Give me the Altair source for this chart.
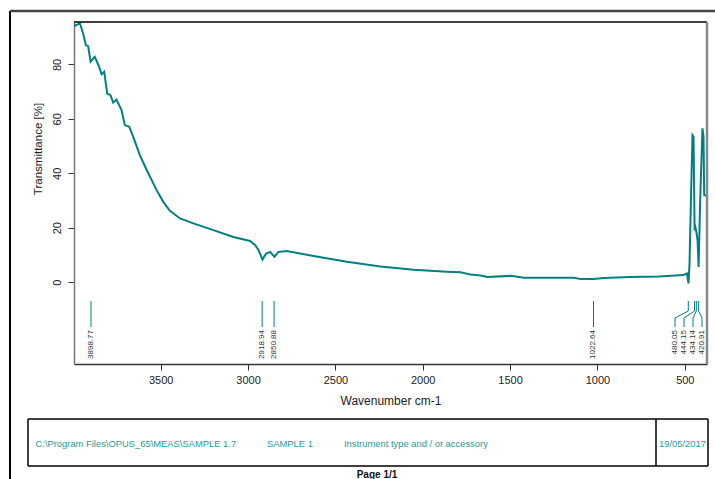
import altair as alt
import pandas as pd

# ---------------- data ----------------
wavenumber = [3996, 3972, 3963, 3944, 3928, 3915, 3901, 3877, 3852, 3838, 3823, 3806,
              3787, 3772, 3753, 3724, 3705, 3680, 3657, 3619, 3580, 3523, 3485, 3447,
              3389, 3313, 3198, 3084, 2988, 2959, 2940, 2917, 2896, 2873, 2849, 2826,
              2778, 2625, 2434, 2243, 2052, 1860, 1784, 1727, 1669, 1631, 1497, 1421,
              1134, 1096, 1022, 963, 816, 650, 507.5, 488, 479, 473, 465, 456, 450,
              444, 439, 434, 427, 421, 412, 399, 393, 389, 373]
transmittance = [94.1, 94.8, 95.3, 91.4, 87.1, 86.7, 81.0, 82.8, 79.1, 76.4, 77.3, 69.3,
                 68.7, 66.0, 67.1, 63.2, 57.7, 57.1, 53.4, 46.7, 41.2, 33.8, 29.5, 26.2,
                 23.4, 21.6, 19.1, 16.6, 15.1, 13.6, 11.8, 8.3, 10.5, 11.1, 9.3, 11.1,
                 11.4, 9.6, 7.5, 5.7, 4.5, 3.8, 3.6, 2.8, 2.4, 1.9, 2.3, 1.6,
                 1.6, 1.1, 1.1, 1.5, 1.9, 2.1, 2.6, 3.2, -0.5, 6.9, 30.1, 54.0, 53.4,
                 19.1, 20.0, 18.5, 15.4, 5.6, 30.1, 56.5, 53.4, 32.0, 31.7]

peak_positions = [3898.77, 2918.94, 2850.88, 1022.64, 480.05, 444.15, 434.14, 420.91]
peak_labels = ["3898.77", "2918.94", "2850.88", "1022.64", "480.05", "444.15", "434.14", "420.91"]

x_ticks = [3500, 3000, 2500, 2000, 1500, 1000, 500]
y_ticks = [0, 20, 40, 60, 80]

x_title = "Wavenumber cm-1"
y_title = "Transmittance [%]"
footer_texts = ["C:\\Program Files\\OPUS_65\\MEAS\\SAMPLE 1.7", "SAMPLE 1",
                "Instrument type and / or accessory", "19/05/2017"]
page_text = "Page 1/1"

# ---------------- layout ----------------
W, H = 633, 342
X0, X1 = 3996, 373
Y_DOMAIN = [-30.1, 95.6]
FONT = "Liberation Sans"
TEAL = "#008080"
FOOT = "#229c9c"

xscale = alt.Scale(domain=[X0, X1], nice=False, zero=False)
yscale = alt.Scale(domain=Y_DOMAIN, nice=False, zero=False)

spec = pd.DataFrame({"wn": wavenumber, "t": transmittance})

# peak label placement (spread clustered labels, min spacing 9px)
def to_px(wn):
    return (X0 - wn) / (X0 - X1) * W

def to_wn(px):
    return X0 - px / W * (X0 - X1)

pk = sorted(zip(peak_positions, peak_labels), key=lambda p: -p[0])
groups, cur = [], [pk[0]]
for p in pk[1:]:
    if to_px(p[0]) - to_px(cur[-1][0]) < 9:
        cur.append(p)
    else:
        groups.append(cur)
        cur = [p]
groups.append(cur)

seg_rows, lab_rows = [], []
Y_TOP, Y_MID1, Y_MID2, Y_BOT, Y_TXT = 279, 289, 296, 305, 308
for g in groups:
    if len(g) == 1:
        wn, lab = g[0]
        seg_rows.append({"x": wn, "x2": wn, "y": Y_TOP, "y2": Y_BOT})
        lab_rows.append({"x": wn, "label": lab})
    else:
        pxs = [to_px(w) for w, _ in g]
        c = sum(pxs) / len(pxs)
        n = len(g)
        spread = [c + (i - (n - 1) / 2) * 9 for i in range(n)]
        shift = min(0, (W - 5) - spread[-1])
        spread = [s + shift for s in spread]
        for (wn, lab), sp in zip(g, spread):
            lw = to_wn(sp)
            seg_rows.append({"x": wn, "x2": wn, "y": Y_TOP, "y2": Y_MID1})
            seg_rows.append({"x": wn, "x2": lw, "y": Y_MID1, "y2": Y_MID2})
            seg_rows.append({"x": lw, "x2": lw, "y": Y_MID2, "y2": Y_BOT})
            lab_rows.append({"x": lw, "label": lab})
segs = pd.DataFrame(seg_rows)
labs = pd.DataFrame(lab_rows)

one = pd.DataFrame({"d": [0]})

# ---------------- layers ----------------
line = alt.Chart(spec).mark_line(color=TEAL, strokeWidth=2, clip=True).encode(
    x=alt.X("wn:Q", scale=xscale,
            axis=alt.Axis(values=x_ticks, format="d", title=x_title, grid=False,
                          tickSize=6, tickColor="#333", domainColor="#333", domainWidth=1.5,
                          labelPadding=4, labelFontSize=11, labelFont=FONT, labelColor="#222",
                          titleFont=FONT, titleFontSize=12, titleFontWeight="normal",
                          titleColor="#222", titleY=36, titleBaseline="middle")),
    y=alt.Y("t:Q", scale=yscale,
            axis=alt.Axis(values=y_ticks, title=y_title, grid=False,
                          tickSize=6, tickColor="#333", domainColor="#777", domainWidth=1.5,
                          labelAngle=270, labelAlign="center", labelBaseline="bottom",
                          labelPadding=6, labelFontSize=11, labelFont=FONT, labelColor="#222",
                          titleFont=FONT, titleFontSize=11.5, titleFontWeight="normal",
                          titleColor="#222", titleAngle=270, titleAlign="center",
                          titleBaseline="bottom", titleX=-31, titleY=126.5)),
)

leaders = alt.Chart(segs).mark_rule(color=TEAL, strokeWidth=1).encode(
    x=alt.X("x:Q", scale=xscale), x2="x2:Q",
    y=alt.Y("y:Q", scale=None), y2="y2:Q",
)

peak_text = alt.Chart(labs).mark_text(angle=270, align="right", baseline="middle",
                                      fontSize=8, font=FONT, color="#333").encode(
    x=alt.X("x:Q", scale=xscale), y=alt.value(Y_TXT), text="label:N",
)

def rule(x, y, x2=None, y2=None, color="black", w=1.0):
    enc = {"x": alt.value(x), "y": alt.value(y)}
    if x2 is not None:
        enc["x2"] = alt.value(x2)
    if y2 is not None:
        enc["y2"] = alt.value(y2)
    return alt.Chart(one).mark_rule(color=color, strokeWidth=w).encode(**enc)

frame = [
    rule(0, 0, x2=W, y2=0, color="black", w=1.5),        # plot top
    rule(W, 0, x2=W, y2=H, color="#888", w=2.5),         # plot right
    rule(-64, -11, x2=-64, y2=460, color="black", w=2),   # page left
    rule(-64, -11, x2=650, y2=-11, color="#444", w=2.5),  # page top
    rule(-46, 397, x2=634, y2=397, color="black", w=1.5),
    rule(-46, 444, x2=634, y2=444, color="black", w=1.5),
    rule(-46, 397, x2=-46, y2=444, color="black", w=1.5),
    rule(634, 397, x2=634, y2=444, color="black", w=1.5),
    rule(582, 397, x2=582, y2=444, color="black", w=1.5),
]

foot_x = [-38.5, 193, 270, 585]
footer = [
    alt.Chart(one).mark_text(align="left", baseline="middle", fontSize=9.4, font=FONT,
                             color=FOOT, text=t).encode(x=alt.value(fx), y=alt.value(421.5))
    for t, fx in zip(footer_texts, foot_x)
]
page = alt.Chart(one).mark_text(align="center", baseline="top", fontSize=10, font=FONT,
                                fontWeight="bold", color="#111", text=page_text).encode(
    x=alt.value(303), y=alt.value(448))

chart = alt.layer(line, leaders, peak_text, *frame, *footer, page).properties(
    width=W, height=H,
    autosize=alt.AutoSizeParams(type="none"),
    padding={"left": 74, "top": 22, "right": 8, "bottom": 115},
    background="white",
).configure_view(strokeWidth=0)

chart.save("out.html", embed_options={"renderer": "svg", "actions": False})
